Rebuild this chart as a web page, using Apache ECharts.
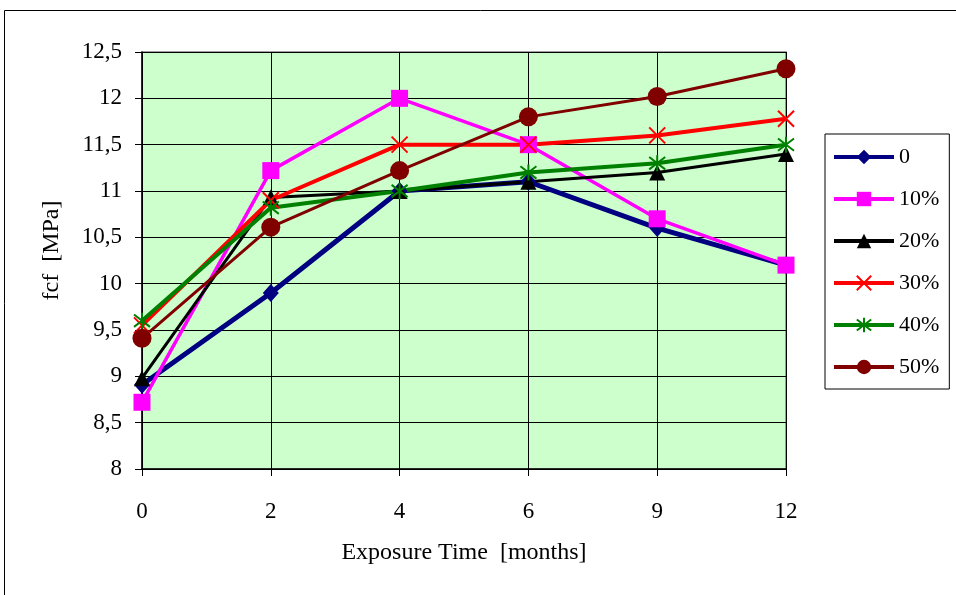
<!DOCTYPE html>
<html>
<head>
<meta charset="utf-8">
<script src="https://cdn.jsdelivr.net/npm/echarts@6/dist/echarts.min.js"></script>
<style>
  html, body { margin: 0; padding: 0; background: #fff; }
  #chart { width: 956px; height: 595px; }
</style>
</head>
<body>
<div id="chart"></div>
<script>
const months = ['0', '2', '4', '6', '9', '12']

const s0 = [8.91, 9.9, 11.0, 11.1, 10.6, 10.2]
const s10 = [8.72, 11.22, 12.0, 11.5, 10.7, 10.2]
const s20 = [8.98, 10.93, 11.0, 11.1, 11.2, 11.4]
const s30 = [9.55, 10.9, 11.5, 11.5, 11.6, 11.78]
const s40 = [9.6, 10.82, 11.0, 11.2, 11.3, 11.5]
const s50 = [9.41, 10.61, 11.22, 11.8, 12.02, 12.32]

const FONT = '"Liberation Serif", "Times New Roman", serif'
const CROSS = 'path://M0,0L10,10M10,0L0,10'
const STAR = 'path://M0,0L10,10M10,0L0,10M5,-1.5L5,11.5'

const SERIES = [
  { name: '0', data: s0, color: '#000080', width: 5, symbol: 'diamond', size: [16, 18] },
  { name: '10%', data: s10, color: '#ff00ff', width: 3.5, symbol: 'rect', size: 17 },
  { name: '20%', data: s20, color: '#000000', width: 3, symbol: 'triangle', size: 16 },
  { name: '30%', data: s30, color: '#ff0000', width: 4, symbol: CROSS, size: 16, stroke: true },
  { name: '40%', data: s40, color: '#008000', width: 4, symbol: STAR, size: 16, stroke: true },
  { name: '50%', data: s50, color: '#800000', width: 3, symbol: 'circle', size: 19 },
]

const chart = echarts.init(document.getElementById('chart'), null, { renderer: 'canvas' })

chart.setOption({
  backgroundColor: '#ffffff',
  animation: false,
  textStyle: { fontFamily: FONT },
  graphic: [
    {
      type: 'rect',
      shape: { x: 4.5, y: 10.5, width: 1000, height: 1000 },
      style: { fill: 'none', stroke: '#000', lineWidth: 1 },
      z: -10,
    },
  ],
  grid: {
    left: 142, right: 170, top: 52, bottom: 126,
    show: true,
    backgroundColor: '#ccffcc',
    borderColor: '#808080',
    borderWidth: 1.5,
    outerBoundsMode: 'none',
    containLabel: false,
  },
  legend: {
    orient: 'vertical',
    left: 825, top: 134,
    padding: [12, 10, 11, 7],
    borderColor: '#000',
    borderWidth: 1,
    backgroundColor: '#fff',
    itemWidth: 60,
    itemHeight: 18,
    itemGap: 20,
    lineStyle: { width: 4 },
    textStyle: { fontFamily: FONT, fontSize: 22, color: '#000', lineHeight: 19 },
    data: SERIES.map((s) => s.name),
  },
  xAxis: {
    type: 'category',
    data: months,
    boundaryGap: false,
    name: 'Exposure Time  [months]',
    nameLocation: 'middle',
    nameGap: 72,
    nameTextStyle: { fontFamily: FONT, fontSize: 24, color: '#000' },
    axisLine: { lineStyle: { color: '#000', width: 1.5 } },
    axisTick: { show: true, length: 7, lineStyle: { color: '#000', width: 1 } },
    axisLabel: { fontFamily: FONT, fontSize: 23, color: '#000', margin: 31 },
    splitLine: { show: true, lineStyle: { color: '#000', width: 1 } },
  },
  yAxis: {
    type: 'value',
    min: 8, max: 12.5, interval: 0.5,
    name: 'fcf  [MPa]',
    nameLocation: 'middle',
    nameRotate: 90,
    nameGap: 78,
    nameTextStyle: { fontFamily: FONT, fontSize: 24, color: '#000', padding: [0, 0, 0, 20] },
    axisLine: { show: true, lineStyle: { color: '#000', width: 1.5 } },
    axisTick: { show: true, length: 7, lineStyle: { color: '#000', width: 1 } },
    axisLabel: {
      fontFamily: FONT, fontSize: 23, color: '#000', margin: 20,
      formatter: (v) => String(v).replace('.', ','),
    },
    splitLine: { show: true, lineStyle: { color: '#000', width: 1 } },
  },
  series: SERIES.map((s) => ({
    name: s.name,
    type: 'line',
    data: s.data,
    symbol: s.symbol,
    symbolSize: s.size,
    showAllSymbol: true,
    lineStyle: { color: s.color, width: s.width },
    itemStyle: s.stroke
      ? { color: s.color, borderColor: s.color, borderWidth: 2 }
      : { color: s.color, borderWidth: 0 },
    emphasis: { disabled: true },
  })),
})
</script>
</body>
</html>
